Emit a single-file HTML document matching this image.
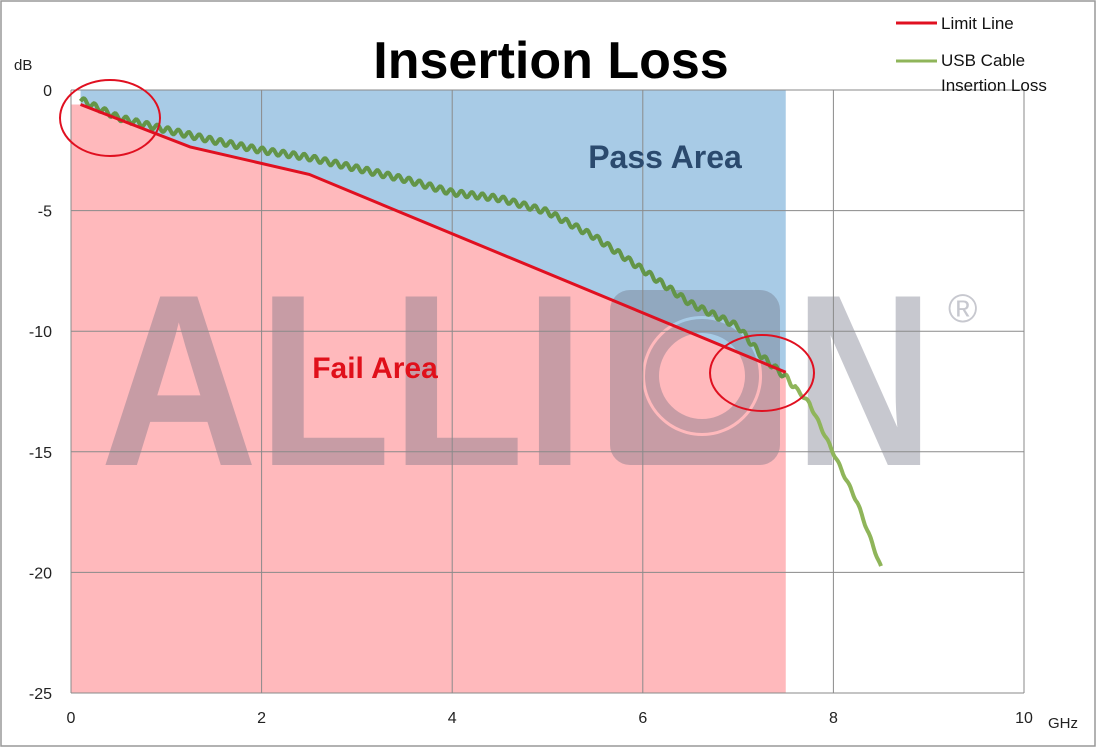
<!DOCTYPE html>
<html><head><meta charset="utf-8"><style>
html,body{margin:0;padding:0;background:#fff}
svg{display:block;font-family:"Liberation Sans",sans-serif}
</style></head><body>
<svg id="chart" width="1098" height="749" viewBox="0 0 1098 749" xmlns="http://www.w3.org/2000/svg">
<rect x="1" y="1" width="1094" height="745" fill="#fff" stroke="#999" stroke-width="1.5"/>
<g id="areas"></g>
<g id="watermark" fill="#6b6e80" fill-opacity="0.38">
  <g stroke="#6b6e80" stroke-opacity="0" >
  <text x="100" y="465" font-size="245" font-weight="bold" textLength="485" lengthAdjust="spacingAndGlyphs" style="paint-order:stroke" >ALLI</text>
  </g>
  <path fill-rule="evenodd" d="M610 290 h150 a20 20 0 0 1 20 20 v135 a20 20 0 0 1 -20 20 h-130 a20 20 0 0 1 -20 -20 v-135 a20 20 0 0 1 20 -20 Z M702 316 a60 60 0 1 0 0.1 0 Z"/>
  <circle cx="702" cy="376" r="50" fill="none" stroke="#6b6e80" stroke-opacity="0.38" stroke-width="14" fill-opacity="0"/>
  <text x="795" y="465" font-size="245" font-weight="bold" textLength="138" lengthAdjust="spacingAndGlyphs">N</text>
  <text x="948" y="322" font-size="40">®</text>
</g>
<g id="grid"></g>
<g id="series"></g>
<g id="labels"></g>
<text x="551" y="78" font-size="52" font-weight="bold" text-anchor="middle" fill="#000">Insertion Loss</text>
<text x="665" y="168" font-size="32" font-weight="bold" text-anchor="middle" fill="#2b4a6e">Pass Area</text>
<text x="375" y="378" font-size="30" font-weight="bold" text-anchor="middle" fill="#e0101a">Fail Area</text>
<ellipse cx="110" cy="118" rx="50" ry="38" fill="none" stroke="#e01020" stroke-width="2"/>
<ellipse cx="762" cy="373" rx="52" ry="38" fill="none" stroke="#e01020" stroke-width="2"/>
<g>
  <line x1="896" y1="23" x2="937" y2="23" stroke="#e01020" stroke-width="3"/>
  <text x="941" y="29" font-size="17" fill="#111">Limit Line</text>
  <line x1="896" y1="61" x2="937" y2="61" stroke="#8fb55a" stroke-width="3"/>
  <text x="941" y="66" font-size="17" fill="#111">USB Cable</text>
  <text x="941" y="91" font-size="17" fill="#111">Insertion Loss</text>
</g>
</svg>
<script>
const xTicks=[0,2,4,6,8,10];
const yTicks=[0,-5,-10,-15,-20,-25];
const limitX=[0.1,1.25,2.5,7.5];
const limitY=[-0.6,-2.36,-3.5,-11.7];
const usbX=[0.1,0.5,1.0,1.5,2.0,2.5,3.0,3.5,4.0,4.5,5.0,5.5,6.0,6.5,7.0,7.25,7.5,7.75,8.0,8.25,8.5];
const usbY=[-0.4,-1.15,-1.65,-2.1,-2.5,-2.8,-3.25,-3.7,-4.25,-4.5,-5.05,-6.1,-7.45,-8.85,-9.8,-11.05,-11.9,-13.0,-15.05,-17.1,-19.8];
const passMaxX=7.5;
const NS="http://www.w3.org/2000/svg";
const X0=71,X1=1024,Y0=90,Y1=693;
const sx=v=>X0+(v-0)/(10-0)*(X1-X0);
const sy=v=>Y0+(0-v)/(25)*(Y1-Y0);
function mk(tag,attrs,parent){const e=document.createElementNS(NS,tag);for(const k in attrs)e.setAttribute(k,attrs[k]);parent.appendChild(e);return e;}
const areas=document.getElementById('areas'),grid=document.getElementById('grid'),series=document.getElementById('series'),labels=document.getElementById('labels');
// thicken watermark letters
document.querySelectorAll('#watermark text').forEach(t=>{if(t.textContent!=='®'){t.setAttribute('stroke','#6b6e80');t.setAttribute('stroke-width','14');t.setAttribute('stroke-opacity','0');}});
let pts=limitX.map((x,i)=>sx(x)+','+sy(limitY[i]));
const pass=mk('polygon',{points:[sx(limitX[0])+','+sy(0),sx(passMaxX)+','+sy(0)].concat(pts.slice().reverse()).join(' '),fill:'#a8cbe6'},areas);


const fail=mk('polygon',{points:[sx(0)+','+sy(limitY[0])].concat(pts).concat([sx(passMaxX)+','+sy(-25),sx(0)+','+sy(-25)]).join(' '),fill:'#ffb9bc'},areas);


xTicks.forEach(t=>{
  const l=mk('line',{x1:sx(t),x2:sx(t),y1:Y0,y2:Y1,stroke:'#8a8a8a','stroke-width':1},grid);
  
  
  const tx=mk('text',{x:sx(t),y:Y1+30,'font-size':16,'text-anchor':'middle',fill:'#222'},labels);
  tx.textContent=t;
  
  
});
yTicks.forEach(t=>{
  const l=mk('line',{x1:X0,x2:X1,y1:sy(t),y2:sy(t),stroke:'#8a8a8a','stroke-width':1},grid);
  
  
  const tx=mk('text',{x:52,y:sy(t)+6,'font-size':16,'text-anchor':'end',fill:'#222'},labels);
  tx.textContent=t;
  
  
});
const yt=mk('text',{x:14,y:70,'font-size':15,fill:'#222'},labels);yt.textContent='dB';


const xt=mk('text',{x:1048,y:728,'font-size':15,fill:'#222'},labels);xt.textContent='GHz';


function interp(x){for(let i=0;i<usbX.length-1;i++){if(x<=usbX[i+1]){const f=(x-usbX[i])/(usbX[i+1]-usbX[i]);return usbY[i]+f*(usbY[i+1]-usbY[i]);}}return usbY[usbY.length-1];}
let d='';const xa=usbX[0],xb=usbX[usbX.length-1];
for(let x=xa;x<=xb+1e-9;x+=0.01){const r=0.12*Math.sin(2*Math.PI*x/0.11)*(x<7.6?1:0.5);d+=(d?'L':'M')+sx(x).toFixed(1)+','+sy(interp(x)+r).toFixed(1);}
const defs=mk('defs',{},series);const cp=mk('clipPath',{id:'passclip'},defs);mk('rect',{x:0,y:0,width:sx(passMaxX),height:sy(-12.5)},cp);
const u=mk('path',{d:d,fill:'none',stroke:'#8fb55a','stroke-width':4,'stroke-linejoin':'round'},series);


const u2=mk('path',{d:d,fill:'none',stroke:'#3f7a3a','stroke-opacity':0.55,'stroke-width':4,'clip-path':'url(#passclip)'},series);


const lim=mk('polyline',{points:pts.join(' '),fill:'none',stroke:'#e01020','stroke-width':3},series);


</script>
</body></html>
